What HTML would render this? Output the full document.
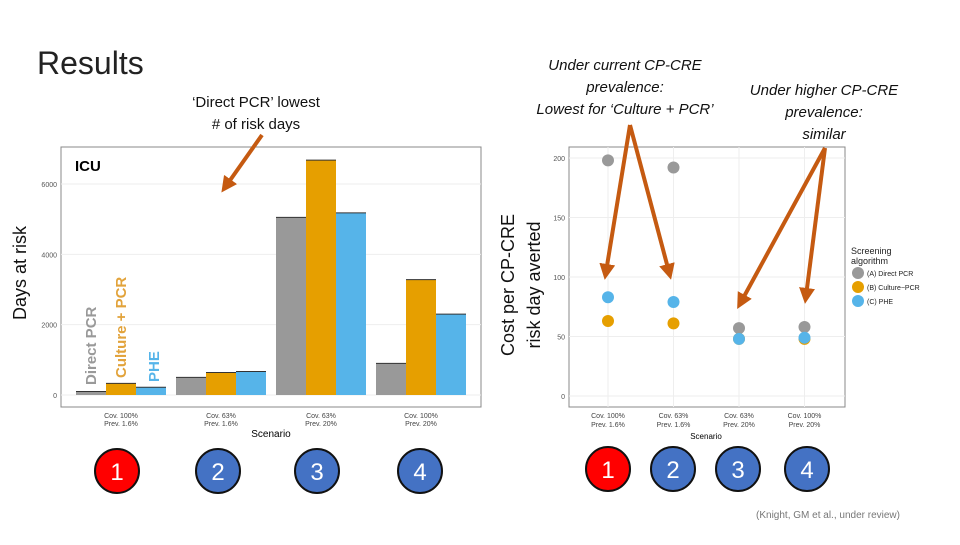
<!DOCTYPE html>
<html><head><meta charset="utf-8"><style>
body{margin:0;background:#fff;width:960px;height:540px;overflow:hidden;font-family:"Liberation Sans",sans-serif}
</style></head><body>
<svg width="960" height="540" xmlns="http://www.w3.org/2000/svg" id="svg">
<defs><marker id="ah" markerWidth="4" markerHeight="4" refX="2" refY="2" orient="auto"><path d="M0,0 L4,2 L0,4 z" fill="#C55A11"/></marker></defs>
<text x="37" y="74" font-size="32" fill="#222" font-family="Liberation Sans">Results</text>
<text x="256" y="107" font-size="15" text-anchor="middle" fill="#111">‘Direct PCR’ lowest</text>
<text x="256" y="129" font-size="15" text-anchor="middle" fill="#111"># of risk days</text>
<g font-style="italic" font-size="15" text-anchor="middle" fill="#111">
<text x="625" y="70">Under current CP-CRE</text><text x="625" y="92">prevalence:</text><text x="625" y="114">Lowest for ‘Culture + PCR’</text></g>
<g font-style="italic" font-size="15" text-anchor="middle" fill="#111">
<text x="824" y="95">Under higher CP-CRE</text><text x="824" y="117">prevalence:</text><text x="824" y="139">similar</text></g>
<!-- left chart frame -->
<rect x="61" y="147" width="420" height="260" fill="#fff" stroke="#888"/>
<g id="lgrid"></g>
<g id="lbars"></g>
<text x="75" y="171" font-size="15" font-weight="bold">ICU</text>
<text transform="translate(26,273) rotate(-90)" font-size="18" text-anchor="middle" fill="#111">Days at risk</text>
<text transform="translate(96,385) rotate(-90)" font-size="15" font-weight="bold" fill="#999">Direct PCR</text>
<text transform="translate(126,378) rotate(-90)" font-size="15" font-weight="bold" fill="#E2A33B">Culture + PCR</text>
<text transform="translate(159,382) rotate(-90)" font-size="15" font-weight="bold" fill="#56B4E9">PHE</text>
<text x="271" y="437" font-size="10" text-anchor="middle">Scenario</text>
<!-- right chart -->
<rect x="569" y="147" width="276" height="260" fill="#fff" stroke="#888"/>
<g id="rgrid"></g>
<g id="rpts"></g>
<text transform="translate(514,285) rotate(-90)" font-size="18" text-anchor="middle" fill="#111">Cost per CP-CRE</text>
<text transform="translate(540,285) rotate(-90)" font-size="18" text-anchor="middle" fill="#111">risk day averted</text>
<text x="706" y="439" font-size="8" text-anchor="middle">Scenario</text>
<g font-size="9" fill="#222">
<text x="851" y="254">Screening</text><text x="851" y="264">algorithm</text>
<circle cx="858" cy="273" r="6" fill="#999"/><text x="867" y="276" font-size="7">(A) Direct PCR</text>
<circle cx="858" cy="287" r="6" fill="#E69F00"/><text x="867" y="290" font-size="7">(B) Culture−PCR</text>
<circle cx="858" cy="301" r="6" fill="#56B4E9"/><text x="867" y="304" font-size="7">(C) PHE</text></g>
<g id="circles"></g>
<text x="828" y="518" font-size="10" fill="#777" text-anchor="middle">(Knight, GM et al., under review)</text>
<g stroke="#C55A11" stroke-width="4" fill="none" marker-end="url(#ah)">
<line x1="262" y1="135" x2="226" y2="186"/>
<line x1="630" y1="125" x2="606" y2="272"/>
<line x1="630" y1="125" x2="669" y2="272"/>
<line x1="825" y1="148" x2="741" y2="302"/>
<line x1="825" y1="148" x2="806" y2="296"/>
</g>
</svg>
<script>
const NS="http://www.w3.org/2000/svg";
const scenarios=[["Cov. 100%","Prev. 1.6%"],["Cov. 63%","Prev. 1.6%"],["Cov. 63%","Prev. 20%"],["Cov. 100%","Prev. 20%"]];
const directPCR=[100,500,5050,900];
const culturePCR=[330,640,6680,3280];
const phe=[220,670,5180,2300];
const leftTicks=[0,2000,4000,6000];
const costA=[198,192,57,58];
const costB=[63,61,48,48];
const costC=[83,79,48,49];
const rightTicks=[0,50,100,150,200];
const colors=["#999999","#E69F00","#56B4E9"];
function mk(t,a,p){const e=document.createElementNS(NS,t);for(const k in a)e.setAttribute(k,a[k]);p.appendChild(e);return e;}
const ly=v=>395-v*(211/6000);
const lx=i=>76+i*100;
const lg=document.getElementById('lgrid');
leftTicks.forEach(t=>{mk('line',{x1:61,x2:481,y1:ly(t),y2:ly(t),stroke:'#eee'},lg);
 const tx=mk('text',{x:57,y:ly(t)+3,'font-size':7,'text-anchor':'end',fill:'#555'},lg);tx.textContent=t;
 
 });
const lb=document.getElementById('lbars');
[directPCR,culturePCR,phe].forEach((s,j)=>s.forEach((v,i)=>{
 const r=mk('rect',{x:lx(i)+j*30,y:ly(v),width:30,height:ly(0)-ly(v),fill:colors[j]},lb);
 
 
 mk('line',{x1:lx(i)+j*30,x2:lx(i)+j*30+30,y1:ly(v),y2:ly(v),stroke:'#333','stroke-width':1},lb);}));
scenarios.forEach((s,i)=>{const cx=lx(i)+45;
 const t=mk('text',{x:cx,y:418,'font-size':7,'text-anchor':'middle',fill:'#444'},lb);t.textContent=s[0];
 
 
 const t2=mk('text',{x:cx,y:426,'font-size':7,'text-anchor':'middle',fill:'#444'},lb);t2.textContent=s[1];});
const ry=v=>396-v*(238/200);
const rx=i=>608+i*65.5;
const rg=document.getElementById('rgrid');
rightTicks.forEach(t=>{mk('line',{x1:569,x2:845,y1:ry(t),y2:ry(t),stroke:'#eee'},rg);
 const tx=mk('text',{x:565,y:ry(t)+3,'font-size':7,'text-anchor':'end',fill:'#555'},rg);tx.textContent=t;
 
 });
scenarios.forEach((s,i)=>{mk('line',{x1:rx(i),x2:rx(i),y1:147,y2:407,stroke:'#eee'},rg);
 const t=mk('text',{x:rx(i),y:418,'font-size':7,'text-anchor':'middle',fill:'#444'},rg);t.textContent=s[0];
 
 
 const t2=mk('text',{x:rx(i),y:427,'font-size':7,'text-anchor':'middle',fill:'#444'},rg);t2.textContent=s[1];});
const rp=document.getElementById('rpts');
[costA,costB,costC].forEach((s,j)=>s.forEach((v,i)=>{
 const c=mk('circle',{cx:rx(i),cy:ry(v),r:6,fill:colors[j]},rp);
 
 }));
const cg=document.getElementById('circles');
const circ=[[117,471,'#FF0000','1'],[218,471,'#4472C4','2'],[317,471,'#4472C4','3'],[420,471,'#4472C4','4'],[608,469,'#FF0000','1'],[673,469,'#4472C4','2'],[738,469,'#4472C4','3'],[807,469,'#4472C4','4']];
circ.forEach(c=>{const g=mk('g',{},cg);
 
 
 mk('circle',{cx:c[0],cy:c[1],r:22,fill:c[2],stroke:'#111','stroke-width':2},g);
 const t=mk('text',{x:c[0],y:c[1]+9,'font-size':24,'text-anchor':'middle',fill:'#fff'},g);t.textContent=c[3];});
</script>
</body></html>
